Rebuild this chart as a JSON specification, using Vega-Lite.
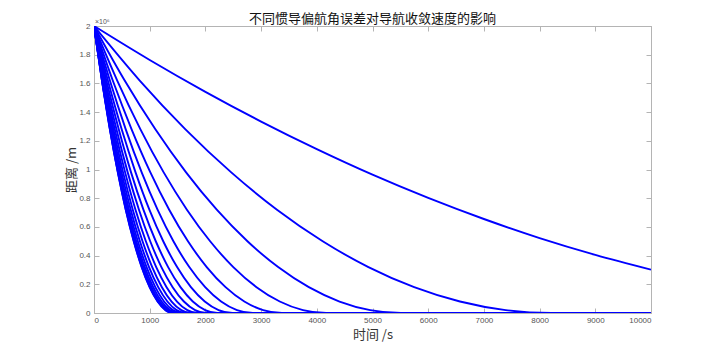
{
  "$schema": "https://vega.github.io/schema/vega-lite/v6.json",
  "width": 557,
  "height": 287,
  "autosize": {"type": "none"},
  "padding": {"left": 94, "top": 26, "right": 69, "bottom": 38},
  "background": "white",
  "config": {
    "view": {"stroke": "#b4b4b4", "strokeWidth": 1},
    "font": "Noto Sans CJK SC",
    "axis": {
      "grid": false,
      "domainColor": "#b4b4b4",
      "tickColor": "#b4b4b4",
      "tickSize": -5,
      "labelFontSize": 8,
      "labelColor": "#555555",
      "labelFont": "Liberation Sans",
      "titleFont": "Noto Sans CJK SC",
      "titleFontSize": 13,
      "titleFontWeight": "normal",
      "titleColor": "#333333"
    }
  },
  "title": {
    "text": "不同惯导偏航角误差对导航收敛速度的影响",
    "font": "Noto Sans CJK SC",
    "fontSize": 13,
    "fontWeight": "normal",
    "color": "#111111",
    "anchor": "middle",
    "offset": 4,
    "dy": 12
  },
  "data": {
    "values": [
      {"c":1,"t":0,"d":2},{"c":1,"t":1000,"d":1.763},{"c":1,"t":2000,"d":1.541},{"c":1,"t":3000,"d":1.334},{"c":1,"t":4000,"d":1.142},{"c":1,"t":5000,"d":0.964},{"c":1,"t":6000,"d":0.802},{"c":1,"t":7000,"d":0.655},{"c":1,"t":8000,"d":0.522},{"c":1,"t":9000,"d":0.405},{"c":1,"t":10000,"d":0.302},
      {"c":2,"t":0,"d":2},{"c":2,"t":821,"d":1.62},{"c":2,"t":1642,"d":1.28},{"c":2,"t":2464,"d":0.98},{"c":2,"t":3285,"d":0.72},{"c":2,"t":4106,"d":0.5},{"c":2,"t":4927,"d":0.32},{"c":2,"t":5748,"d":0.18},{"c":2,"t":6570,"d":0.08},{"c":2,"t":7391,"d":0.02},{"c":2,"t":8212,"d":0},{"c":2,"t":10000,"d":0},
      {"c":3,"t":0,"d":2},{"c":3,"t":551,"d":1.62},{"c":3,"t":1102,"d":1.28},{"c":3,"t":1653,"d":0.98},{"c":3,"t":2204,"d":0.72},{"c":3,"t":2755,"d":0.5},{"c":3,"t":3306,"d":0.32},{"c":3,"t":3857,"d":0.18},{"c":3,"t":4408,"d":0.08},{"c":3,"t":4959,"d":0.02},{"c":3,"t":5510,"d":0},{"c":3,"t":10000,"d":0},
      {"c":4,"t":0,"d":2},{"c":4,"t":417,"d":1.62},{"c":4,"t":834,"d":1.28},{"c":4,"t":1251,"d":0.98},{"c":4,"t":1668,"d":0.72},{"c":4,"t":2085,"d":0.5},{"c":4,"t":2501,"d":0.32},{"c":4,"t":2918,"d":0.18},{"c":4,"t":3335,"d":0.08},{"c":4,"t":3752,"d":0.02},{"c":4,"t":4169,"d":0},{"c":4,"t":10000,"d":0},
      {"c":5,"t":0,"d":2},{"c":5,"t":337,"d":1.62},{"c":5,"t":675,"d":1.28},{"c":5,"t":1012,"d":0.98},{"c":5,"t":1350,"d":0.72},{"c":5,"t":1687,"d":0.5},{"c":5,"t":2024,"d":0.32},{"c":5,"t":2362,"d":0.18},{"c":5,"t":2699,"d":0.08},{"c":5,"t":3037,"d":0.02},{"c":5,"t":3374,"d":0},{"c":5,"t":10000,"d":0},
      {"c":6,"t":0,"d":2},{"c":6,"t":285,"d":1.62},{"c":6,"t":570,"d":1.28},{"c":6,"t":856,"d":0.98},{"c":6,"t":1141,"d":0.72},{"c":6,"t":1426,"d":0.5},{"c":6,"t":1711,"d":0.32},{"c":6,"t":1996,"d":0.18},{"c":6,"t":2282,"d":0.08},{"c":6,"t":2567,"d":0.02},{"c":6,"t":2852,"d":0},{"c":6,"t":10000,"d":0},
      {"c":7,"t":0,"d":2},{"c":7,"t":249,"d":1.62},{"c":7,"t":497,"d":1.28},{"c":7,"t":746,"d":0.98},{"c":7,"t":994,"d":0.72},{"c":7,"t":1243,"d":0.5},{"c":7,"t":1492,"d":0.32},{"c":7,"t":1740,"d":0.18},{"c":7,"t":1989,"d":0.08},{"c":7,"t":2237,"d":0.02},{"c":7,"t":2486,"d":0},{"c":7,"t":10000,"d":0},
      {"c":8,"t":0,"d":2},{"c":8,"t":222,"d":1.62},{"c":8,"t":444,"d":1.28},{"c":8,"t":665,"d":0.98},{"c":8,"t":887,"d":0.72},{"c":8,"t":1109,"d":0.5},{"c":8,"t":1331,"d":0.32},{"c":8,"t":1553,"d":0.18},{"c":8,"t":1774,"d":0.08},{"c":8,"t":1996,"d":0.02},{"c":8,"t":2218,"d":0},{"c":8,"t":10000,"d":0},
      {"c":9,"t":0,"d":2},{"c":9,"t":202,"d":1.62},{"c":9,"t":403,"d":1.28},{"c":9,"t":605,"d":0.98},{"c":9,"t":807,"d":0.72},{"c":9,"t":1009,"d":0.5},{"c":9,"t":1210,"d":0.32},{"c":9,"t":1412,"d":0.18},{"c":9,"t":1614,"d":0.08},{"c":9,"t":1815,"d":0.02},{"c":9,"t":2017,"d":0},{"c":9,"t":10000,"d":0},
      {"c":10,"t":0,"d":2},{"c":10,"t":186,"d":1.62},{"c":10,"t":372,"d":1.28},{"c":10,"t":559,"d":0.98},{"c":10,"t":745,"d":0.72},{"c":10,"t":931,"d":0.5},{"c":10,"t":1117,"d":0.32},{"c":10,"t":1303,"d":0.18},{"c":10,"t":1490,"d":0.08},{"c":10,"t":1676,"d":0.02},{"c":10,"t":1862,"d":0},{"c":10,"t":10000,"d":0},
      {"c":11,"t":0,"d":2},{"c":11,"t":174,"d":1.62},{"c":11,"t":348,"d":1.28},{"c":11,"t":522,"d":0.98},{"c":11,"t":696,"d":0.72},{"c":11,"t":871,"d":0.5},{"c":11,"t":1045,"d":0.32},{"c":11,"t":1219,"d":0.18},{"c":11,"t":1393,"d":0.08},{"c":11,"t":1567,"d":0.02},{"c":11,"t":1741,"d":0},{"c":11,"t":10000,"d":0},
      {"c":12,"t":0,"d":2},{"c":12,"t":165,"d":1.62},{"c":12,"t":329,"d":1.28},{"c":12,"t":494,"d":0.98},{"c":12,"t":659,"d":0.72},{"c":12,"t":824,"d":0.5},{"c":12,"t":988,"d":0.32},{"c":12,"t":1153,"d":0.18},{"c":12,"t":1318,"d":0.08},{"c":12,"t":1482,"d":0.02},{"c":12,"t":1647,"d":0},{"c":12,"t":10000,"d":0},
      {"c":13,"t":0,"d":2},{"c":13,"t":157,"d":1.62},{"c":13,"t":315,"d":1.28},{"c":13,"t":472,"d":0.98},{"c":13,"t":629,"d":0.72},{"c":13,"t":787,"d":0.5},{"c":13,"t":944,"d":0.32},{"c":13,"t":1101,"d":0.18},{"c":13,"t":1258,"d":0.08},{"c":13,"t":1416,"d":0.02},{"c":13,"t":1573,"d":0},{"c":13,"t":10000,"d":0},
      {"c":14,"t":0,"d":2},{"c":14,"t":152,"d":1.62},{"c":14,"t":304,"d":1.28},{"c":14,"t":455,"d":0.98},{"c":14,"t":607,"d":0.72},{"c":14,"t":759,"d":0.5},{"c":14,"t":911,"d":0.32},{"c":14,"t":1063,"d":0.18},{"c":14,"t":1214,"d":0.08},{"c":14,"t":1366,"d":0.02},{"c":14,"t":1518,"d":0},{"c":14,"t":10000,"d":0},
      {"c":15,"t":0,"d":2},{"c":15,"t":148,"d":1.62},{"c":15,"t":295,"d":1.28},{"c":15,"t":443,"d":0.98},{"c":15,"t":590,"d":0.72},{"c":15,"t":738,"d":0.5},{"c":15,"t":886,"d":0.32},{"c":15,"t":1033,"d":0.18},{"c":15,"t":1181,"d":0.08},{"c":15,"t":1328,"d":0.02},{"c":15,"t":1476,"d":0},{"c":15,"t":10000,"d":0},
      {"c":16,"t":0,"d":2},{"c":16,"t":145,"d":1.62},{"c":16,"t":290,"d":1.28},{"c":16,"t":434,"d":0.98},{"c":16,"t":579,"d":0.72},{"c":16,"t":724,"d":0.5},{"c":16,"t":869,"d":0.32},{"c":16,"t":1014,"d":0.18},{"c":16,"t":1158,"d":0.08},{"c":16,"t":1303,"d":0.02},{"c":16,"t":1448,"d":0},{"c":16,"t":10000,"d":0},
      {"c":17,"t":0,"d":2},{"c":17,"t":143,"d":1.62},{"c":17,"t":286,"d":1.28},{"c":17,"t":429,"d":0.98},{"c":17,"t":572,"d":0.72},{"c":17,"t":716,"d":0.5},{"c":17,"t":859,"d":0.32},{"c":17,"t":1002,"d":0.18},{"c":17,"t":1145,"d":0.08},{"c":17,"t":1288,"d":0.02},{"c":17,"t":1431,"d":0},{"c":17,"t":10000,"d":0},
      {"c":18,"t":0,"d":2},{"c":18,"t":143,"d":1.62},{"c":18,"t":285,"d":1.28},{"c":18,"t":428,"d":0.98},{"c":18,"t":570,"d":0.72},{"c":18,"t":713,"d":0.5},{"c":18,"t":856,"d":0.32},{"c":18,"t":998,"d":0.18},{"c":18,"t":1141,"d":0.08},{"c":18,"t":1283,"d":0.02},{"c":18,"t":1426,"d":0},{"c":18,"t":10000,"d":0}
    ]
  },
  "layer": [
    {
      "mark": {"type": "line", "interpolate": "monotone", "color": "#0000ff", "strokeWidth": 1.9, "clip": true},
      "encoding": {
        "x": {"field": "t", "type": "quantitative", "scale": {"domain": [0, 10000], "nice": false},
          "axis": {"values": [0,1000,2000,3000,4000,5000,6000,7000,8000,9000,10000], "format": "d", "title": "时间 /s", "labelPadding": 8, "titlePadding": 4}},
        "y": {"field": "d", "type": "quantitative", "scale": {"domain": [0, 2], "nice": false},
          "axis": {"values": [0,0.2,0.4,0.6,0.8,1,1.2,1.4,1.6,1.8,2], "format": "~g", "title": "距离 /m", "labelPadding": 9, "titlePadding": 0}},
        "detail": {"field": "c", "type": "nominal"}
      }
    },
    {
      "mark": {"type": "point", "opacity": 0},
      "encoding": {
        "x": {"field": "t", "type": "quantitative",
          "axis": {"orient": "top", "values": [0,1000,2000,3000,4000,5000,6000,7000,8000,9000,10000], "labels": false, "title": null}},
        "y": {"field": "d", "type": "quantitative",
          "axis": {"orient": "right", "values": [0,0.2,0.4,0.6,0.8,1,1.2,1.4,1.6,1.8,2], "labels": false, "title": null}}
      }
    },
    {
      "data": {"values": [{"lab": "×10⁶"}]},
      "mark": {"type": "text", "align": "left", "baseline": "bottom", "dx": 1, "dy": -1, "fontSize": 7, "color": "#555555", "font": "Liberation Sans"},
      "encoding": {
        "x": {"datum": 0, "type": "quantitative", "axis": null},
        "y": {"datum": 2, "type": "quantitative", "axis": null},
        "text": {"field": "lab"}
      }
    }
  ],
  "resolve": {"axis": {"x": "independent", "y": "independent"}}
}
